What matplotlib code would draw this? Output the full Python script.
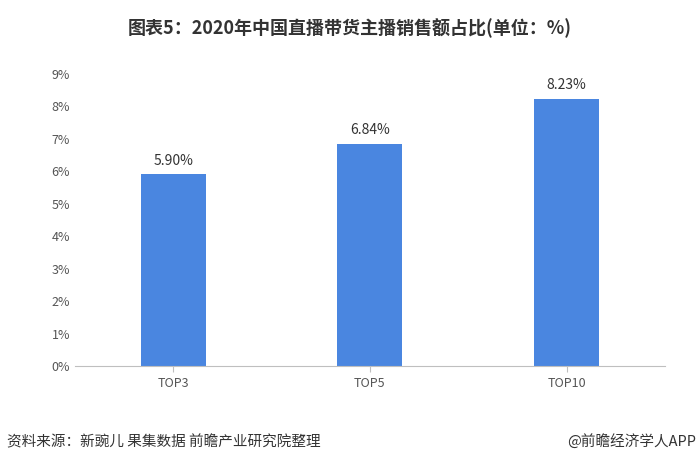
import matplotlib
matplotlib.use("Agg")
import matplotlib.pyplot as plt

plt.rcParams['font.family'] = ['Noto Sans CJK SC', 'DejaVu Sans']

categories = ['TOP3', 'TOP5', 'TOP10']
shares = [5.90, 6.84, 8.23]
yticks = list(range(0, 10))

fig = plt.figure(figsize=(7, 4.7), dpi=100)
ax = fig.add_axes([0.107, 0.221, 0.843, 0.622])

x = range(len(categories))
ax.bar(x, shares, width=0.33, color='#4a86e0')
for i, v in zip(x, shares):
    ax.text(i, v + 0.2, f'{v:.2f}%', ha='center', va='bottom', fontsize=10, color='#333333')

ax.set_xlim(-0.5, 2.5)
ax.set_ylim(0, 9)
ax.set_yticks(yticks)
ax.set_yticklabels([f'{t}%' for t in yticks], fontsize=9, color='#555555')
ax.set_xticks(list(x))
ax.set_xticklabels(categories, fontsize=9, color='#555555')
for s in ['top', 'right', 'left']:
    ax.spines[s].set_visible(False)
ax.spines['bottom'].set_color('#bfbfbf')
ax.tick_params(axis='y', length=0)
ax.tick_params(axis='x', length=4, color='#bfbfbf')

fig.text(0.5, 0.94, '图表5：2020年中国直播带货主播销售额占比(单位：%)', ha='center', va='center',
         fontsize=13, fontweight='bold', color='#333333')
fig.text(0.01, 0.06, '资料来源：新豌儿 果集数据 前瞻产业研究院整理', ha='left', va='center',
         fontsize=10.5, color='#333333')
fig.text(0.995, 0.06, '@前瞻经济学人APP', ha='right', va='center', fontsize=10.5, color='#333333')

fig.savefig('out.png', dpi=100)
